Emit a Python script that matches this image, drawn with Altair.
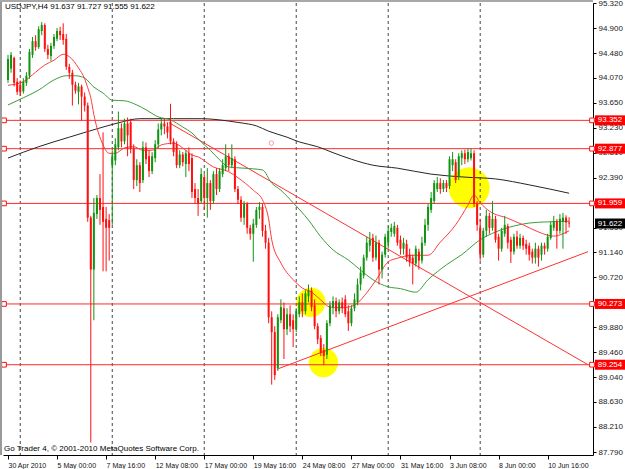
import json
import altair as alt
import pandas as pd

# ---------------- data ----------------
opens = [
    94.03, 94.22, 94.40, 94.00, 93.95, 93.84, 93.98, 94.10, 94.45, 94.68,
    94.58, 94.85, 94.95, 94.55, 94.43, 94.60, 94.72, 94.85, 94.80, 94.72,
    94.25, 94.15, 93.95, 93.83, 93.92, 93.75, 93.60, 91.72, 90.85, 91.78,
    92.05, 91.90, 91.70, 91.68, 92.60, 92.68, 92.90, 93.22, 93.00, 93.30,
    93.32, 92.88, 92.35, 92.60, 92.35, 92.90, 92.75, 92.50, 92.72, 92.95,
    93.20, 93.30, 93.25, 93.33, 93.00, 92.95, 92.60, 92.78, 92.62, 92.80,
    92.72, 92.20, 92.05, 92.00, 92.40, 92.05, 92.30, 92.00, 92.45, 92.20,
    92.45, 92.55, 92.75, 92.60, 92.70, 92.20, 92.02, 91.72, 91.95, 91.55,
    91.45, 91.60, 91.85, 91.90, 91.50, 91.30, 90.05, 89.80, 89.20, 90.00,
    90.20, 89.85, 90.10, 90.00, 89.85, 90.10, 90.30, 90.15, 90.40, 90.50,
    90.25, 89.90, 89.70, 89.50, 89.42, 89.95, 90.22, 90.32, 90.15, 90.30,
    90.35, 90.15, 89.95, 90.20, 90.30, 90.60, 90.75, 91.05, 91.25, 91.38,
    91.05, 91.30, 90.85, 91.10, 91.30, 91.48, 91.45, 91.55, 91.35, 91.20,
    91.28, 91.10, 91.05, 90.95, 91.15, 91.00, 91.30, 91.60, 91.85, 92.00,
    92.20, 92.30, 92.20, 92.30, 92.25, 92.60, 92.65, 92.40, 92.72, 92.80,
    92.70, 92.72, 92.80, 91.95, 91.55, 91.10, 91.50, 91.75, 91.55, 91.70,
    91.40, 91.20, 91.45, 91.58, 91.35, 91.15, 91.40, 91.25, 91.38, 91.28,
    91.25, 91.15, 91.05, 91.20, 91.10, 91.25, 91.20, 91.38, 91.55, 91.65,
    91.50, 91.65, 91.72, 91.637,
]
highs = [
    94.45, 94.50, 94.42, 94.06, 94.02, 94.06, 94.16, 94.55, 94.75, 94.78,
    94.93, 95.00, 94.98, 94.62, 94.65, 94.80, 94.90, 94.92, 94.98, 94.80,
    94.30, 94.20, 94.00, 93.98, 93.95, 93.82, 93.65, 91.75, 92.05, 92.10,
    92.45, 93.15, 91.90, 91.78, 92.85, 93.05, 93.50, 93.30, 93.38, 93.40,
    93.38, 92.95, 92.70, 92.65, 93.00, 92.98, 92.85, 92.82, 93.02, 93.30,
    93.38, 93.38, 93.32, 93.63, 93.05, 93.00, 92.85, 92.82, 92.85, 92.90,
    92.80, 92.30, 92.20, 92.55, 92.45, 92.55, 92.35, 92.50, 92.55, 92.55,
    92.70, 92.95, 92.80, 92.95, 92.75, 92.25, 92.08, 92.00, 91.98, 91.60,
    91.70, 91.90, 91.98, 91.95, 91.60, 91.38, 90.15, 89.90, 90.10, 90.35,
    90.30, 90.20, 90.25, 90.10, 90.20, 90.40, 90.45, 90.50, 90.60, 90.55,
    90.35, 89.95, 89.75, 89.60, 90.00, 90.32, 90.40, 90.38, 90.35, 90.38,
    90.42, 90.25, 90.25, 90.45, 90.70, 90.90, 91.10, 91.40, 91.48, 91.45,
    91.42, 91.35, 91.15, 91.45, 91.58, 91.62, 91.65, 91.60, 91.42, 91.38,
    91.35, 91.20, 91.10, 91.25, 91.20, 91.40, 91.70, 91.95, 92.15, 92.35,
    92.40, 92.38, 92.35, 92.35, 92.75, 92.82, 92.70, 92.80, 92.85, 92.86,
    92.88, 92.88, 92.85, 92.00, 91.70, 91.55, 91.85, 91.80, 92.00, 91.75,
    91.45, 91.55, 91.75, 91.62, 91.40, 91.45, 91.50, 91.45, 91.42, 91.35,
    91.30, 91.20, 91.30, 91.25, 91.30, 91.30, 91.45, 91.65, 91.75, 91.70,
    91.78, 91.80, 91.76, 91.727,
]
lows = [
    93.98, 94.15, 93.92, 93.78, 93.76, 93.80, 93.93, 94.05, 94.40, 94.52,
    94.55, 94.78, 94.50, 94.38, 94.35, 94.55, 94.68, 94.70, 94.62, 94.20,
    94.05, 93.60, 93.80, 93.62, 93.35, 93.50, 91.65, 87.95, 90.00, 91.70,
    91.60, 90.82, 90.82, 91.00, 91.60, 92.60, 92.85, 92.90, 92.95, 92.75,
    92.80, 92.20, 92.25, 92.15, 92.30, 92.62, 92.40, 92.45, 92.65, 92.88,
    93.10, 93.12, 93.05, 92.95, 92.75, 92.55, 92.55, 92.58, 92.40, 92.50,
    92.05, 91.95, 91.75, 91.95, 91.85, 91.72, 91.85, 91.95, 92.10, 92.15,
    92.40, 92.50, 92.50, 92.55, 92.15, 91.95, 91.65, 91.60, 91.45, 91.35,
    90.98, 91.55, 91.70, 91.40, 91.20, 89.95, 88.92, 89.00, 89.15, 89.95,
    89.35, 89.75, 89.80, 89.55, 89.80, 90.05, 90.05, 90.10, 90.30, 90.15,
    89.85, 89.60, 89.40, 89.25, 89.35, 89.90, 90.10, 90.05, 90.10, 90.12,
    90.05, 89.82, 89.90, 90.15, 90.25, 90.50, 90.70, 91.00, 91.15, 90.98,
    91.00, 90.60, 90.70, 91.05, 91.20, 91.40, 91.40, 91.25, 91.10, 91.10,
    90.98, 90.90, 90.60, 90.90, 90.85, 90.95, 91.25, 91.50, 91.80, 91.95,
    92.15, 92.12, 92.15, 92.15, 92.20, 92.50, 92.30, 92.35, 92.60, 92.62,
    92.65, 92.68, 91.90, 91.50, 91.00, 91.05, 91.40, 91.45, 91.50, 91.30,
    91.00, 91.15, 91.40, 91.20, 90.96, 91.10, 91.20, 91.20, 91.18, 91.10,
    91.00, 90.95, 90.95, 90.90, 91.00, 91.10, 91.15, 91.35, 91.50, 91.20,
    91.45, 91.20, 91.45, 91.555,
]
closes = [
    94.38, 94.45, 93.98, 93.83, 93.82, 94.00, 94.10, 94.50, 94.68, 94.58,
    94.88, 94.95, 94.55, 94.45, 94.60, 94.75, 94.85, 94.78, 94.70, 94.25,
    94.15, 93.95, 93.85, 93.92, 93.75, 93.60, 91.72, 90.85, 91.80, 92.05,
    91.85, 91.65, 91.55, 91.55, 92.75, 92.95, 93.22, 93.00, 93.30, 93.10,
    92.88, 92.35, 92.60, 92.30, 92.90, 92.70, 92.50, 92.75, 92.95, 93.20,
    93.30, 93.25, 93.15, 93.00, 92.82, 92.60, 92.78, 92.65, 92.80, 92.62,
    92.15, 92.05, 91.95, 92.45, 92.05, 92.30, 92.00, 92.45, 92.20, 92.50,
    92.60, 92.75, 92.60, 92.72, 92.20, 92.02, 91.72, 91.95, 91.55, 91.45,
    91.62, 91.85, 91.90, 91.50, 91.30, 90.05, 89.80, 89.08, 90.05, 90.22,
    89.85, 90.10, 89.90, 89.85, 90.15, 90.30, 90.15, 90.45, 90.50, 90.22,
    89.90, 89.68, 89.45, 89.40, 89.95, 90.25, 90.32, 90.15, 90.30, 90.20,
    90.10, 89.95, 90.20, 90.35, 90.60, 90.80, 91.05, 91.30, 91.35, 91.05,
    91.30, 90.85, 91.10, 91.40, 91.50, 91.55, 91.58, 91.30, 91.20, 91.30,
    91.05, 90.98, 90.95, 91.20, 91.00, 91.30, 91.60, 91.90, 92.05, 92.30,
    92.30, 92.20, 92.30, 92.22, 92.70, 92.70, 92.35, 92.75, 92.80, 92.70,
    92.82, 92.80, 91.95, 91.60, 91.10, 91.50, 91.75, 91.55, 91.70, 91.35,
    91.20, 91.50, 91.60, 91.30, 91.15, 91.40, 91.25, 91.38, 91.25, 91.20,
    91.10, 91.05, 91.20, 91.05, 91.25, 91.20, 91.40, 91.60, 91.65, 91.50,
    91.70, 91.72, 91.64, 91.622,
]

time_labels = ["30 Apr 2010", "5 May 00:00", "7 May 16:00", "12 May 08:00",
               "17 May 00:00", "19 May 16:00", "24 May 08:00", "27 May 00:00",
               "31 May 16:00", "3 Jun 08:00", "8 Jun 00:00", "10 Jun 16:00"]
time_label_bars = [0, 16, 32, 48, 64, 80, 96, 112, 128, 144, 160, 176]
week_start_bars = [4, 34, 64, 94, 124, 154]
price_ticks = [95.320, 94.900, 94.480, 94.070, 93.650, 93.230, 92.810, 92.390,
               91.970, 91.550, 91.140, 90.720, 90.300, 89.880, 89.460, 89.040,
               88.630, 88.210, 87.790]
level_prices = [93.352, 92.877, 91.959, 90.273, 89.254]
last_price = 91.622

fast_ma_bars = [0, 5, 9, 12, 15, 18, 20, 23, 25, 26, 27, 28, 31, 33, 35, 38, 41,
                44, 47, 50, 54, 57, 60, 62, 67, 72, 75, 80, 83, 84, 85, 86, 89,
                93, 96, 99, 102, 105, 108, 111, 114, 117, 120, 124, 127, 132,
                137, 141, 146, 150, 152, 154, 157, 163, 168, 173, 178, 181, 183]
fast_ma = [93.94, 94.00, 94.16, 94.28, 94.36, 94.46, 94.42, 94.23, 94.05, 93.90,
           93.73, 93.45, 92.94, 92.80, 92.80, 92.89, 92.91, 92.85, 92.85, 92.94,
           92.97, 92.89, 92.77, 92.74, 92.57, 92.49, 92.39, 92.18, 92.02, 91.90,
           91.70, 91.35, 90.96, 90.68, 90.54, 90.47, 90.34, 90.22, 90.21, 90.22,
           90.29, 90.46, 90.67, 90.98, 91.04, 91.09, 91.09, 91.31, 91.60, 91.93,
           92.10, 91.97, 91.83, 91.71, 91.60, 91.48, 91.41, 91.45, 91.50]

mid_ma_bars = [0, 5, 10, 15, 19, 22, 25, 28, 31, 34, 38, 42, 45, 49, 53, 57, 60,
               63, 66, 69, 72, 77, 83, 86, 89, 93, 98, 102, 106, 111, 115, 119,
               124, 128, 133, 137, 143, 148, 154, 159, 165, 170, 176, 183]
mid_ma = [93.61, 93.73, 93.86, 94.03, 94.10, 94.10, 94.06, 93.91, 93.81, 93.69,
          93.68, 93.61, 93.53, 93.41, 93.36, 93.24, 93.14, 92.99, 92.85, 92.69,
          92.57, 92.55, 92.52, 92.30, 92.18, 91.97, 91.68, 91.40, 91.18, 91.01,
          90.84, 90.68, 90.56, 90.53, 90.47, 90.68, 90.93, 91.10, 91.35, 91.48,
          91.58, 91.63, 91.65, 91.66]

slow_ma_bars = [0, 10, 20, 31, 36, 43, 54, 63, 72, 76, 81, 85, 91, 95, 101, 106,
                112, 119, 127, 138, 149, 159, 170, 183]
slow_ma = [92.72, 92.91, 93.07, 93.24, 93.31, 93.38, 93.38, 93.38, 93.34, 93.31,
           93.26, 93.17, 93.07, 92.99, 92.91, 92.81, 92.70, 92.60, 92.55, 92.45,
           92.40, 92.37, 92.27, 92.13]

trend_down_bars = [52.6, 189.16]
trend_down_prices = [93.31, 89.254]
trend_up_bars = [87.8, 189.16]
trend_up_prices = [89.18, 91.15]

small_circle_bars = [98.8, 102.9]
small_circle_prices = [90.30, 89.29]
big_circle_bars = [150.4]
big_circle_prices = [92.22]
anchor_bars = [85.9]
anchor_prices = [92.97]

title_text = "USDJPY,H4  91.637 91.727 91.555 91.622"
copyright_text = "Go Trader 4, \u00a9 2001-2010 MetaQuotes Software Corp."

# ---------------- chart ----------------
FONT = "Liberation Sans"
RED = "#ff1010"
GREEN = "#119411"
W, H = 590, 452

X = alt.Scale(domain=[0, 189.16], nice=False, zero=False)
Y = alt.Scale(domain=[87.74, 95.32], nice=False, zero=False)

candles = pd.DataFrame({
    "bar": list(range(len(opens))),
    "open": opens, "high": highs, "low": lows, "close": closes,
})
candles["dir"] = ["up" if c >= o else "down" for o, c in zip(opens, closes)]

dir_color = alt.Color("dir:N", scale=alt.Scale(domain=["up", "down"], range=[GREEN, RED]), legend=None)

x_axis = alt.Axis(
    values=time_label_bars, labelExpr=f"{json.dumps(time_labels)}[round(datum.value / 16)]",
    labelAlign="left", labelFont=FONT, labelFontSize=7, labelColor="#111",
    tickSize=4, tickColor="#000", domainColor="#000", labelPadding=2,
    labelFlush=False, labelOverlap=False, labelBound=False, grid=False, title=None,
)
y_axis = alt.Axis(
    orient="right", values=price_ticks, format=".3f", labelFont=FONT, labelFontSize=8,
    labelColor="#222", tickSize=3, tickColor="#000", domainColor="#000",
    labelPadding=2, labelFlush=False, labelOverlap=False, grid=False, title=None,
)

def xq(field):
    return alt.X(field, type="quantitative", scale=X, axis=x_axis)

def yq(field):
    return alt.Y(field, type="quantitative", scale=Y, axis=y_axis)

small_circles = alt.Chart(pd.DataFrame({"bar": small_circle_bars, "price": small_circle_prices})).mark_point(
    shape="circle", filled=True, size=850, color="#ffff00", opacity=1
).encode(x=xq("bar"), y=yq("price"))
big_circle = alt.Chart(pd.DataFrame({"bar": big_circle_bars, "price": big_circle_prices})).mark_point(
    shape="circle", filled=True, size=1680, color="#ffff00", opacity=1
).encode(x=xq("bar"), y=yq("price"))

separators = alt.Chart(pd.DataFrame({"bar": week_start_bars})).mark_rule(
    color="#444", strokeWidth=1, strokeDash=[3, 3]
).encode(x=xq("bar"))

levels_df = pd.DataFrame({"price": level_prices})
levels = alt.Chart(levels_df).mark_rule(color="#ff2a2a", strokeWidth=1).encode(y=yq("price"))

trend_df = pd.DataFrame({
    "bar": trend_down_bars + trend_up_bars,
    "price": trend_down_prices + trend_up_prices,
    "line": ["down", "down", "up", "up"],
})
trends = alt.Chart(trend_df).mark_line(color="#ff3030", strokeWidth=1).encode(
    x=xq("bar"), y=yq("price"), detail="line:N")

def ma_layer(bars, vals, color):
    return alt.Chart(pd.DataFrame({"bar": bars, "price": vals})).mark_line(
        color=color, strokeWidth=1, interpolate="monotone"
    ).encode(x=xq("bar"), y=yq("price"))

slow = ma_layer(slow_ma_bars, slow_ma, "#262626")
mid = ma_layer(mid_ma_bars, mid_ma, "#3c9c3c")
fast = ma_layer(fast_ma_bars, fast_ma, "#ff3c3c")

wicks = alt.Chart(candles).mark_rule(strokeWidth=1).encode(
    x=xq("bar"), y=yq("low"), y2="high:Q", color=dir_color)
bodies = alt.Chart(candles).mark_bar(size=2).encode(
    x=xq("bar"), y=yq("open"), y2="close:Q", color=dir_color)

anchor = alt.Chart(pd.DataFrame({"bar": anchor_bars, "price": anchor_prices})).mark_point(
    shape="circle", filled=False, size=20, color="#ff7070", strokeWidth=1
).encode(x=xq("bar"), y=yq("price"))

left_squares = alt.Chart(levels_df).mark_point(
    shape="square", size=22, filled=True, fill="white", stroke=RED, strokeWidth=1, opacity=1
).encode(x=alt.value(1), y=yq("price"))
right_squares = alt.Chart(levels_df).mark_point(
    shape="square", size=22, filled=True, fill="white", stroke=RED, strokeWidth=1, opacity=1
).encode(x=alt.value(589), y=yq("price"))

TAG = "M-1.5,-0.5L1.5,-0.5L1.5,0.5L-1.5,0.5Z"
tags = alt.Chart(levels_df).mark_point(
    shape=TAG, size=400, filled=True, color="#ff0000", opacity=1, strokeWidth=0
).encode(x=alt.value(607), y=yq("price"))
tag_text = alt.Chart(levels_df).mark_text(
    font=FONT, fontSize=8, color="white", align="center", baseline="middle"
).encode(x=alt.value(607), y=yq("price"), text=alt.Text("price:Q", format=".3f"))

last_df = pd.DataFrame({"price": [last_price]})
last_tag = alt.Chart(last_df).mark_point(
    shape=TAG, size=400, filled=True, color="#000000", opacity=1, strokeWidth=0
).encode(x=alt.value(607), y=yq("price"))
last_text = alt.Chart(last_df).mark_text(
    font=FONT, fontSize=8, color="white", align="center", baseline="middle"
).encode(x=alt.value(607), y=yq("price"), text=alt.Text("price:Q", format=".3f"))

title = alt.Chart(pd.DataFrame({"t": [title_text]})).mark_text(
    font=FONT, fontSize=8, color="#000", align="left", baseline="middle"
).encode(x=alt.value(2), y=alt.value(4), text="t:N")
copyright_mark = alt.Chart(pd.DataFrame({"t": [copyright_text]})).mark_text(
    font=FONT, fontSize=8, color="#000", align="left", baseline="middle"
).encode(x=alt.value(1), y=alt.value(446), text="t:N")

left_border = alt.Chart(pd.DataFrame({"k": [0]})).mark_rule(color="#9a9a9a", strokeWidth=2).encode(
    x=alt.value(-2), y=alt.value(-3), y2=alt.value(H))
top_border = alt.Chart(pd.DataFrame({"k": [0]})).mark_rule(color="#a8a8a8", strokeWidth=2).encode(
    x=alt.value(-3), x2=alt.value(W), y=alt.value(-2))

chart = alt.layer(
    small_circles, big_circle, separators, levels, trends, slow, mid, fast,
    wicks, bodies, anchor, left_squares, right_squares,
    tags, tag_text, last_tag, last_text, title, copyright_mark,
    left_border, top_border,
).properties(
    width=W, height=H,
    autosize=alt.AutoSizeParams(type="none"),
    padding={"left": 3, "top": 3, "right": 32, "bottom": 14},
    background="white",
).configure_view(stroke=None)

chart.save("out.html", embed_options={"renderer": "svg", "actions": False})
